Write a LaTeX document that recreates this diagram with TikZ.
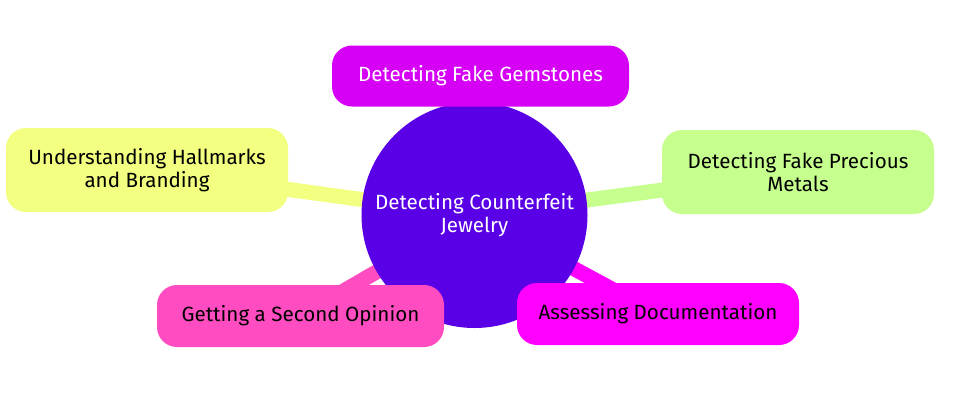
\documentclass[tikz,border=0pt]{standalone}
\usepackage{fontspec}
\setmainfont{Fira Sans}
\usetikzlibrary{backgrounds}
\definecolor{rootviolet}{RGB}{90,0,230}
\definecolor{gemmagenta}{RGB}{213,0,245}
\definecolor{hallyellow}{RGB}{242,255,128}
\definecolor{metalgreen}{RGB}{199,255,143}
\definecolor{opinionpink}{RGB}{255,77,193}
\definecolor{docmagenta}{RGB}{255,0,255}
\begin{document}
\begin{tikzpicture}[x=1pt,y=-1pt]
	\tikzstyle{every node}=[font=\fontsize{20.6}{23.5}\selectfont]
	\tikzstyle{leaf}=[rectangle, rounded corners=20pt, align=center, inner sep=0pt]
	\tikzstyle{link}=[line width=15pt]
	\useasboundingbox (0,0) rectangle (957,408);
	\node [circle, fill=rootviolet, text=white, minimum size=226pt, align=center, inner sep=0pt] (root) at (474.5,215) {Detecting Counterfeit\\Jewelry};
	\node [leaf, fill=gemmagenta, text=white, minimum width=297pt, minimum height=61pt] (gems) at (480.5,76) {Detecting Fake Gemstones};
	\node [leaf, fill=hallyellow, minimum width=282pt, minimum height=84pt] (hall) at (147,170) {Understanding Hallmarks\\and Branding};
	\node [leaf, fill=metalgreen, minimum width=272pt, minimum height=84pt] (metal) at (798,172) {Detecting Fake Precious\\Metals};
	\node [leaf, fill=opinionpink, minimum width=287pt, minimum height=62pt] (opinion) at (300.5,316) {Getting a Second Opinion};
	\node [leaf, fill=docmagenta, minimum width=282pt, minimum height=62pt] (docs) at (658,314) {Assessing Documentation};
	\begin{scope}[on background layer]
		\draw [link, color=gemmagenta] (root.center) -- (gems.center);
		\draw [link, color=hallyellow] (root.center) -- (hall.center);
		\draw [link, color=metalgreen] (root.center) -- (metal.center);
		\draw [link, color=opinionpink] (root.center) -- (opinion.center);
		\draw [link, color=docmagenta] (root.center) -- (docs.center);
	\end{scope}
\end{tikzpicture}
\end{document}
